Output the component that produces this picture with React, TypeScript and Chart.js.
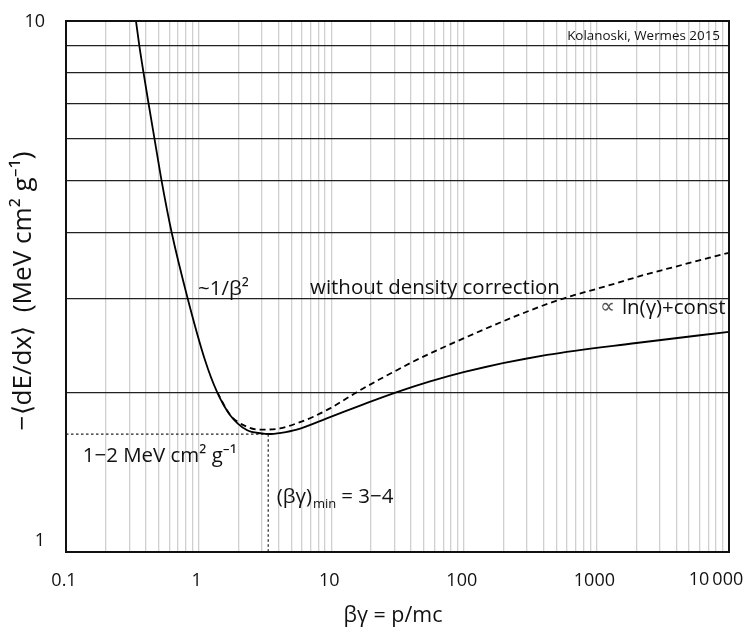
import React, { useEffect, useRef } from 'react';
import { Chart, registerables } from 'chart.js';
Chart.register(...registerables);

// Solid curve: with density correction
const solidX = [0.337, 0.357, 0.384, 0.419, 0.465, 0.526, 0.626, 0.828, 1.117, 1.38, 1.73, 2.31, 3.0, 3.36, 4.2, 5.5, 9.8, 17.5, 31.3, 55.7, 99.6, 424, 2000, 10000];
const solidY = [10, 9, 8, 7, 6, 5, 4, 3, 2.3, 2.0, 1.81, 1.697, 1.672, 1.668, 1.677, 1.70, 1.795, 1.897, 2.0, 2.095, 2.182, 2.35, 2.475, 2.598];

// Dashed curve: without density correction
const dashX = [1.38, 1.73, 2.31, 2.91, 4.11, 5.5, 7.34, 9.8, 13.1, 15.6, 23.4, 31.3, 41.7, 74.5, 237, 535, 1202, 2410, 3830, 10000];
const dashY = [2.0, 1.812, 1.722, 1.70, 1.709, 1.747, 1.798, 1.864, 1.947, 2.0, 2.117, 2.2, 2.285, 2.445, 2.77, 2.99, 3.17, 3.337, 3.44, 3.66];

// Minimum marker
const minBG = 3.35;
const minVal = 1.667;

const xMin = 0.1, xMax = 10000, yMin = 1, yMax = 10;
const xTickValues = [0.1, 1, 10, 100, 1000, 10000];
const xTickLabels = ['0.1', '1', '10', '100', '1000', '10\u2009000'];
const yTickValues = [1, 10];
const yTickLabels = ['1', '10'];
const multipliers = [1, 2, 3, 4, 5, 6, 7, 8, 9];

const FAM = '"Open Sans", "Noto Sans", sans-serif';

function gridValues(lo: number, hi: number) {
  const out: number[] = [];
  for (let e = Math.round(Math.log10(lo)); e <= Math.round(Math.log10(hi)); e++) {
    for (const m of multipliers) {
      const v = parseFloat((m * Math.pow(10, e)).toPrecision(6));
      if (v >= lo - 1e-9 && v <= hi + 1e-9) out.push(v);
    }
  }
  return out;
}

function fitSize(ctx: CanvasRenderingContext2D, text: string, target: number) {
  ctx.font = `20px ${FAM}`;
  const w = ctx.measureText(text).width;
  return (20 * target) / w;
}

const annotPlugin = {
  id: 'annot',
  afterDraw(chart: any) {
    const { ctx, chartArea: a, scales } = chart;
    const x = scales.x, y = scales.y;
    ctx.save();
    // frame
    ctx.strokeStyle = '#111';
    ctx.lineWidth = 2;
    ctx.strokeRect(a.left, a.top, a.right - a.left, a.bottom - a.top);

    ctx.fillStyle = '#111';
    // x tick labels
    ctx.font = `18px ${FAM}`;
    ctx.textBaseline = 'alphabetic';
    ctx.textAlign = 'center';
    xTickValues.forEach((v, i) => {
      const px = x.getPixelForValue(v);
      const last = i === xTickValues.length - 1;
      ctx.fillText(xTickLabels[i], last ? px - 13 : px - 2, a.bottom + (last ? 33 : 34));
    });
    // y tick labels
    ctx.textAlign = 'right';
    ctx.textBaseline = 'middle';
    yTickValues.forEach((v, i) => {
      const py = y.getPixelForValue(v);
      ctx.fillText(yTickLabels[i], a.left - 21, v === yMin ? py - 11 : py + 1);
    });

    // base annotation size from the long label
    const t2 = 'without density correction';
    const fs = fitSize(ctx, t2, 250);

    // x title
    const xt = '\u03B2\u03B3 = p/mc';
    ctx.font = `${fs + 1}px ${FAM}`;
    ctx.textAlign = 'center';
    ctx.textBaseline = 'alphabetic';
    ctx.fillText(xt, 393, a.bottom + 70);

    // y title
    const yt = '\u2212\u27E8dE/dx\u27E9  (MeV cm\u00B2 g\u207B\u00B9)';
    ctx.save();
    ctx.translate(24, 291);
    ctx.rotate(-Math.PI / 2);
    ctx.font = `${fitSize(ctx, yt, 280)}px ${FAM}`;
    ctx.textAlign = 'center';
    ctx.textBaseline = 'middle';
    ctx.fillText(yt, 0, 0);
    ctx.restore();

    // annotations
    ctx.textBaseline = 'alphabetic';
    const kw = 'Kolanoski, Wermes 2015';
    ctx.font = `${fitSize(ctx, kw, 153)}px ${FAM}`;
    ctx.textAlign = 'right';
    ctx.fillText(kw, a.right - 9, a.top + 19);

    ctx.font = `${fs}px ${FAM}`;
    ctx.textAlign = 'left';
    ctx.fillText('~1/\u03B2\u00B2', x.getPixelForValue(0.99), y.getPixelForValue(3.05));
    ctx.fillText(t2, x.getPixelForValue(6.93), y.getPixelForValue(3.06));

    // proportional to ln(gamma)+const
    ctx.textAlign = 'right';
    const rx = x.getPixelForValue(9400);
    const ry = y.getPixelForValue(2.805);
    const main = 'ln(\u03B3)+const';
    ctx.fillText(main, rx, ry);
    const w = ctx.measureText(main).width;
    ctx.fillStyle = '#555';
    ctx.font = `21px ${FAM}`;
    ctx.fillText('\u221D', rx - w - 7, ry - 1);
    ctx.fillStyle = '#111';

    ctx.font = `${fs}px ${FAM}`;
    ctx.textAlign = 'left';
    ctx.fillText('1\u22122 MeV cm\u00B2 g\u207B\u00B9', x.getPixelForValue(0.134), y.getPixelForValue(1.479));

    // (beta gamma)_min = 3-4
    let lx = x.getPixelForValue(3.88);
    const ly = y.getPixelForValue(1.236);
    ctx.fillText('(\u03B2\u03B3)', lx, ly);
    lx += ctx.measureText('(\u03B2\u03B3)').width + 1;
    ctx.font = `${Math.round(fs * 0.62)}px ${FAM}`;
    ctx.fillText('min', lx, ly + 5);
    lx += ctx.measureText('min').width + 5;
    ctx.font = `${fs}px ${FAM}`;
    ctx.fillText('= 3\u22124', lx, ly);

    ctx.restore();
  },
};

export default function App() {
  const ref = useRef<HTMLCanvasElement | null>(null);
  useEffect(() => {
    if (!ref.current) return;
    const xGrid = gridValues(xMin, xMax);
    const yGrid = gridValues(yMin, yMax);
    const chart = new Chart(ref.current, {
      type: 'line',
      data: {
        datasets: [
          {
            data: solidX.map((v, i) => ({ x: v, y: solidY[i] })),
            borderColor: '#000',
            borderWidth: 1.8,
            pointRadius: 0,
            cubicInterpolationMode: 'monotone',
            fill: false,
          },
          {
            data: dashX.map((v, i) => ({ x: v, y: dashY[i] })),
            borderColor: '#000',
            borderWidth: 1.8,
            borderDash: [6, 4],
            pointRadius: 0,
            cubicInterpolationMode: 'monotone',
            fill: false,
          },
          {
            data: [{ x: xMin, y: minVal }, { x: minBG, y: minVal }],
            borderColor: '#222',
            borderWidth: 1.2,
            borderDash: [2.5, 2.5],
            pointRadius: 0,
            tension: 0,
          },
          {
            data: [{ x: minBG, y: minVal }, { x: minBG, y: yMin }],
            borderColor: '#222',
            borderWidth: 1.2,
            borderDash: [2.5, 2.5],
            pointRadius: 0,
            tension: 0,
          },
        ],
      },
      options: {
        animation: false,
        responsive: true,
        maintainAspectRatio: false,
        layout: { padding: { top: 21, right: 18, left: 0, bottom: 0 } },
        plugins: { legend: { display: false }, tooltip: { enabled: false } },
        scales: {
          x: {
            type: 'logarithmic',
            min: xMin,
            max: xMax,
            afterBuildTicks: (s: any) => { s.ticks = xGrid.map((v) => ({ value: v })); },
            afterFit: (s: any) => { s.height = 81; },
            ticks: { display: false, autoSkip: false },
            grid: { color: '#d0d0d0', lineWidth: 1.3, drawTicks: false, tickLength: 0 },
            border: { display: false },
          },
          y: {
            type: 'logarithmic',
            min: yMin,
            max: yMax,
            afterBuildTicks: (s: any) => { s.ticks = yGrid.map((v) => ({ value: v })); },
            afterFit: (s: any) => { s.width = 66; },
            ticks: { display: false, autoSkip: false },
            grid: { color: '#222', lineWidth: 1.2, drawTicks: false, tickLength: 0 },
            border: { display: false },
          },
        },
      } as any,
      plugins: [annotPlugin],
    });
    return () => chart.destroy();
  }, []);
  return (
    <div style={{ position: 'fixed', left: 0, top: 0, width: 747, height: 633, background: '#fff' }}>
      <canvas ref={ref} />
    </div>
  );
}
